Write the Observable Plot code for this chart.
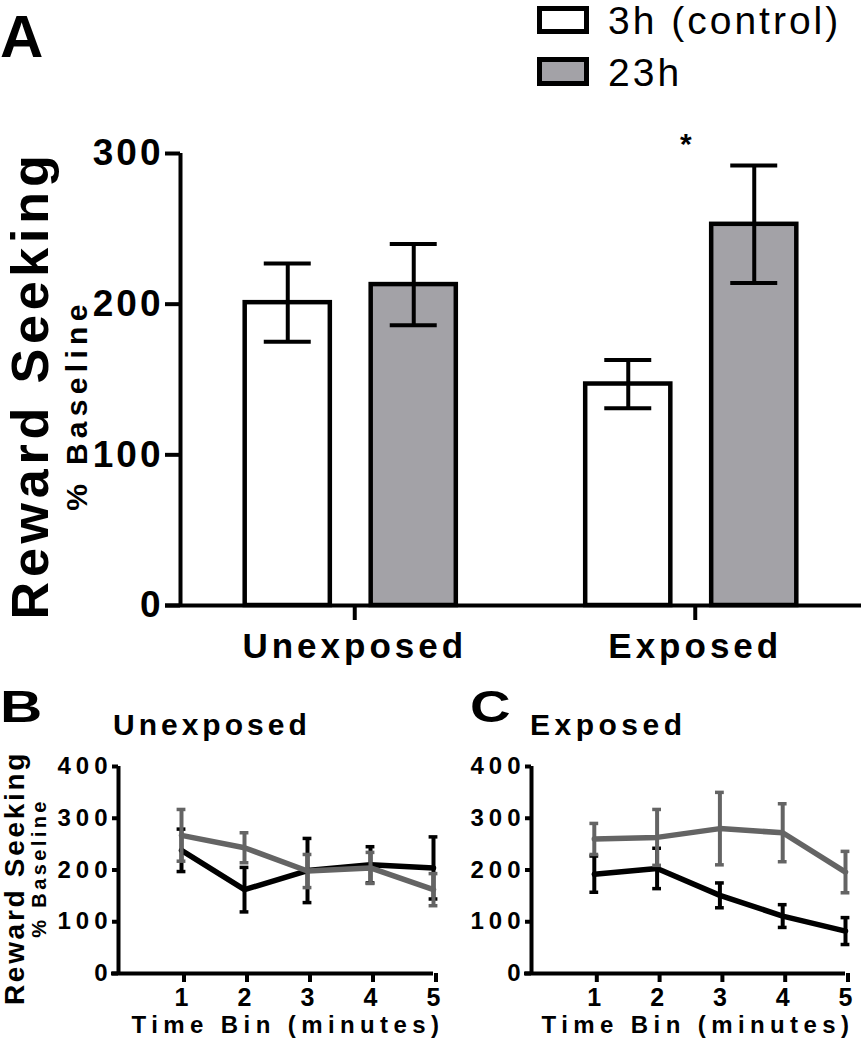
<!DOCTYPE html>
<html><head><meta charset="utf-8">
<script src="https://cdn.jsdelivr.net/npm/d3@7"></script>
<script src="https://cdn.jsdelivr.net/npm/@observablehq/plot@0.6"></script>
<style>
body{margin:0;background:#fff;}
#fig{position:relative;width:864px;height:1050px;overflow:hidden;font-family:"Liberation Sans",Arial,Helvetica,sans-serif;background:#fff;}
#fig svg{position:absolute;}
.lbl{position:absolute;line-height:1;white-space:nowrap;color:#000;}
.box{position:absolute;box-sizing:border-box;border:5px solid #000;}
</style></head><body><div id="fig"></div>
<script>
// ---------- data ----------
const groups = ["Unexposed", "Exposed"];
const conditions = ["3h (control)", "23h"];
const meanA3h = [201, 147];
const semA3h = [26, 16];
const meanA23h = [213, 253];
const semA23h = [27, 39];
const sigLabels = ["", "*"];
const yTicksA = [0, 100, 200, 300];

const timeBins = [1, 2, 3, 4, 5];
const unexp3h = [238, 162, 199, 210, 204];
const unexp3hSem = [41, 43, 62, 35, 60];
const unexp23h = [267, 243, 198, 204, 162];
const unexp23hSem = [50, 29, 32, 30, 31];
const exp3h = [192, 203, 151, 111, 82];
const exp3hSem = [35, 39, 24, 22, 26];
const exp23h = [260, 263, 280, 272, 196];
const exp23hSem = [30, 54, 70, 56, 40];
const yTicksBC = [0, 100, 200, 300, 400];

// ---------- styling ----------
const FONT = '"Liberation Sans", Arial, Helvetica, sans-serif';
const GRAY_FILL = "#a3a2a7";
const GRAY_LINE = "#646464";
const fig = document.getElementById("fig");

function place(svg, left, top) {
  svg.style.left = left + "px";
  svg.style.top = top + "px";
  fig.appendChild(svg);
}
function addText(txt, o) {
  const d = document.createElement("div");
  d.className = "lbl";
  d.textContent = txt;
  d.style.fontSize = o.size + "px";
  d.style.fontWeight = o.weight || "bold";
  d.style.letterSpacing = (o.ls || 0) + "px";
  d.style.left = o.x + "px";
  if (o.rotate) {
    d.style.top = o.y + "px";
    d.style.transformOrigin = "0 0";
    d.style.transform = "rotate(-90deg) translate(-50%, -0.8465em)";
  } else {
    d.style.top = (o.y - 0.8465 * o.size) + "px";
    const t = [];
    if (o.anchor === "middle") t.push("translateX(-50%)");
    if (o.sx) { t.push(`scaleX(${o.sx})`); d.style.transformOrigin = "0 0"; }
    if (t.length) d.style.transform = t.join(" ");
  }
  fig.appendChild(d);
}
function spaceLabels(svg, axis, px) {
  svg.querySelectorAll(`[aria-label="${axis}-axis tick label"] text`).forEach(t => t.style.letterSpacing = px + "px");
}

// ---------- Panel A ----------
const BAR_OFF = 0.185, BAR_HALF = 0.125, CAP_A = 0.069;
const barRows = groups.flatMap((g, i) => conditions.map((c, j) => ({
  g, c,
  xc: i + 0.5 + (j ? BAR_OFF : -BAR_OFF),
  mean: j ? meanA23h[i] : meanA3h[i],
  sem: j ? semA23h[i] : semA3h[i]
})));
const sigRows = groups.map((g, i) => ({x: i + 0.5, t: sigLabels[i]}));

const plotA = Plot.plot({
  width: 864, height: 680,
  marginTop: 153, marginBottom: 75, marginLeft: 180, marginRight: 3,
  x: {domain: [0, 2], axis: null},
  y: {domain: [0, 300], axis: null},
  color: {domain: conditions, range: ["#ffffff", GRAY_FILL]},
  style: {overflow: "visible", background: "transparent", fontFamily: FONT, color: "#000", letterSpacing: "3px"},
  marks: [
    Plot.rect(barRows, {x1: d => d.xc - BAR_HALF, x2: d => d.xc + BAR_HALF, y1: 0, y2: "mean", fill: "c", stroke: "#000", strokeWidth: 4.5}),
    Plot.ruleX(barRows, {x: "xc", y1: d => d.mean - d.sem, y2: d => d.mean + d.sem, stroke: "#000", strokeWidth: 4}),
    Plot.ruleY(barRows, {y: d => d.mean + d.sem, x1: d => d.xc - CAP_A, x2: d => d.xc + CAP_A, stroke: "#000", strokeWidth: 4}),
    Plot.ruleY(barRows, {y: d => d.mean - d.sem, x1: d => d.xc - CAP_A, x2: d => d.xc + CAP_A, stroke: "#000", strokeWidth: 4}),
    Plot.ruleX([0], {y1: 0, y2: 300, stroke: "#000", strokeWidth: 4}),
    Plot.ruleY([0], {insetLeft: -15, stroke: "#000", strokeWidth: 4}),
    Plot.axisY({ticks: yTicksA, tickSize: 15, tickPadding: 2, strokeWidth: 4, fontSize: 37, fontWeight: "bold", label: null}),
    Plot.axisX({ticks: groups.map((g, i) => i + 0.5), tickFormat: v => groups[Math.floor(v)], tickSize: 15, tickPadding: 13, strokeWidth: 4, fontSize: 35, fontWeight: "bold", label: null, dx: 4}),
    Plot.text(sigRows, {x: "x", text: "t", frameAnchor: "top", lineAnchor: "bottom", fontSize: 30, fontWeight: "bold", dx: -4})
  ]
});
spaceLabels(plotA, "x", 4);
place(plotA, 0, 0);

// ---------- Panels B & C ----------
const CAP_BC = 0.07;
function linePanel(m3, s3, m23, s23, width, marginLeft, marginRight) {
  const rowsFor = (means, sems, c) => timeBins.map((t, i) => ({t, c, mean: means[i], sem: sems[i]}));
  const series = [rowsFor(m3, s3, conditions[0]), rowsFor(m23, s23, conditions[1])];
  const marks = [];
  for (const rows of series) {
    marks.push(
      Plot.ruleX(rows, {x: "t", y1: d => d.mean - d.sem, y2: d => d.mean + d.sem, stroke: "c", strokeWidth: 4}),
      Plot.ruleY(rows, {y: d => d.mean + d.sem, x1: d => d.t - CAP_BC, x2: d => d.t + CAP_BC, stroke: "c", strokeWidth: 3.5}),
      Plot.ruleY(rows, {y: d => d.mean - d.sem, x1: d => d.t - CAP_BC, x2: d => d.t + CAP_BC, stroke: "c", strokeWidth: 3.5}),
      Plot.line(rows, {x: "t", y: "mean", stroke: "c", strokeWidth: 5.5})
    );
  }
  marks.push(
    Plot.ruleX([0], {y1: 0, y2: 400, stroke: "#000", strokeWidth: 4}),
    Plot.ruleY([0], {insetLeft: -7, stroke: "#000", strokeWidth: 4}),
    Plot.axisY({ticks: yTicksBC, tickSize: 6, tickPadding: 0, strokeWidth: 4, fontSize: 24, fontWeight: "bold", label: null}),
    Plot.axisX({ticks: timeBins, tickFormat: d3.format("d"), tickSize: 9, tickPadding: 6, strokeWidth: 4, fontSize: 25, fontWeight: "bold", label: null, dx: 2.5})
  );
  return Plot.plot({
    width, height: 310,
    marginTop: 26, marginBottom: 77, marginLeft, marginRight,
    x: {domain: [0, 5], axis: null},
    y: {domain: [0, 400], axis: null},
    color: {domain: conditions, range: ["#000000", GRAY_LINE]},
    style: {overflow: "visible", background: "transparent", fontFamily: FONT, color: "#000", letterSpacing: "5px"},
    marks
  });
}
place(linePanel(unexp3h, unexp3hSem, unexp23h, unexp23hSem, 440, 118, 7), 0, 740);
place(linePanel(exp3h, exp3hSem, exp23h, exp23hSem, 424, 91, 19), 440, 740);

// ---------- Text ----------
addText("A", {x: 0, y: 58, size: 60});
addText("Reward Seeking", {x: 48, y: 385, size: 52, ls: 4.8, rotate: true});
addText("% Baseline", {x: 87, y: 405, size: 30, ls: 5.3, rotate: true});

// legend
const lb1 = document.createElement("div"); lb1.className = "box";
Object.assign(lb1.style, {left: "537px", top: "6px", width: "52px", height: "28px", background: "#fff"});
fig.appendChild(lb1);
const lb2 = document.createElement("div"); lb2.className = "box";
Object.assign(lb2.style, {left: "537px", top: "57px", width: "52px", height: "29px", background: GRAY_FILL});
fig.appendChild(lb2);
addText(conditions[0], {x: 608, y: 34, size: 39, weight: "normal", ls: 3});
addText(conditions[1], {x: 608, y: 86, size: 39, weight: "normal", ls: 3});

addText("B", {x: 0, y: 722, size: 45, sx: 1.3});
addText("Unexposed", {x: 113, y: 735, size: 30, ls: 4});
addText("Reward Seeking", {x: 25, y: 878, size: 28, ls: 2.7, rotate: true});
addText("% Baseline", {x: 46, y: 868, size: 20, ls: 3.4, rotate: true});
addText("Time Bin (minutes)", {x: 288, y: 1033, size: 24, ls: 5.4, anchor: "middle"});

addText("C", {x: 470, y: 722, size: 45, sx: 1.25});
addText("Exposed", {x: 530, y: 735, size: 30, ls: 4.5});
addText("Time Bin (minutes)", {x: 698, y: 1033, size: 24, ls: 5.4, anchor: "middle"});
</script></body></html>
